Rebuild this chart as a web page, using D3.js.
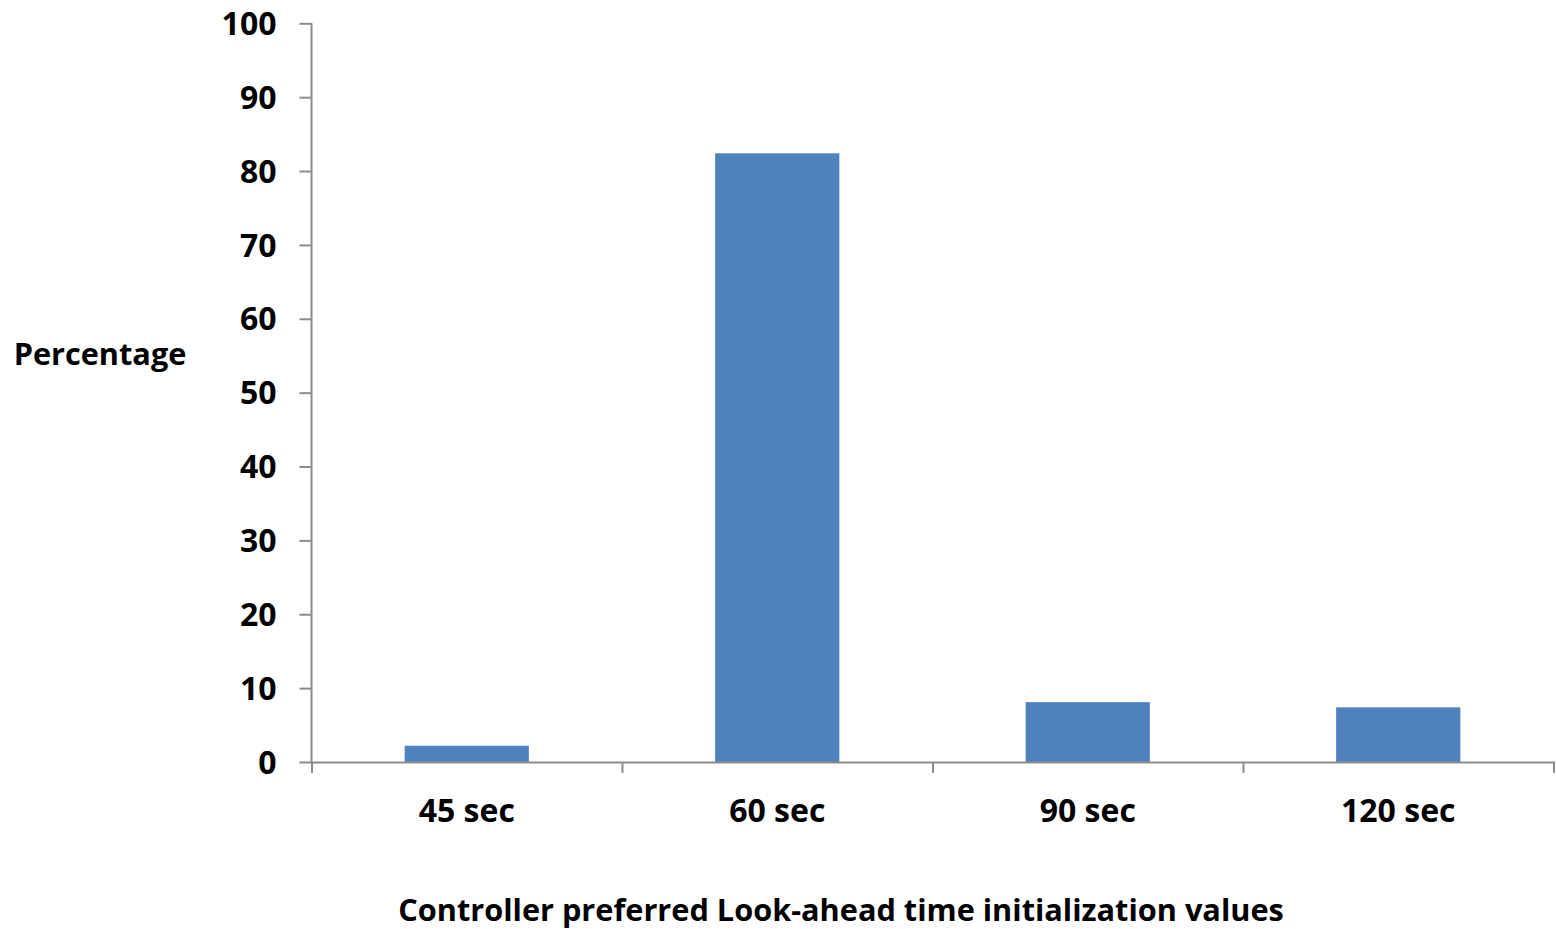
<!DOCTYPE html>
<html><head><meta charset="utf-8">
<script src="https://cdn.jsdelivr.net/npm/d3@7"></script>
<style>body{margin:0;background:#fff}svg text{font-family:"Open Sans",sans-serif;font-weight:bold;fill:#000}</style>
</head><body>
<svg id="c" width="1556" height="929"></svg>
<script>
const categories = ["45 sec","60 sec","90 sec","120 sec"];
const values = [2.2, 82.4, 8.1, 7.4];
const yTicks = [0,10,20,30,40,50,60,70,80,90,100];
const yTitle = "Percentage";
const xTitle = "Controller preferred Look-ahead time initialization values";

(function(){
const svg = d3.select("#c");
const mLeft = 311.5, mRight = 1553.5, mTop = 23.3, mBottom = 762;
const x = d3.scaleBand().domain(categories).range([mLeft, mRight]).paddingInner(0.6).paddingOuter(0.3);
const y = d3.scaleLinear().domain([0,100]).range([mBottom, mTop]);

svg.selectAll("rect.bar").data(values).enter().append("rect")
  .attr("class","bar")
  .attr("x",(d,i)=>x(categories[i]))
  .attr("width",x.bandwidth())
  .attr("y",d=>y(d))
  .attr("height",d=>mBottom-y(d))
  .attr("fill","#4f81bd");

const ya = svg.append("g").attr("transform",`translate(${mLeft},0)`)
  .call(d3.axisLeft(y).tickValues(yTicks).tickSize(12).tickPadding(23));
const xa = svg.append("g").attr("transform",`translate(0,${mBottom})`)
  .call(d3.axisBottom(d3.scalePoint().domain(d3.range(categories.length+1)).range([mLeft,mRight])).tickSize(11).tickFormat(""));
[ya,xa].forEach(g=>{g.selectAll("path,line").attr("stroke","#8c8c8c").attr("stroke-width",2);});
ya.select(".domain").attr("d",`M0,${mTop}V${mBottom}`);
ya.selectAll("text").attr("font-size",32).attr("dy","0.35em");

svg.append("g").selectAll("text").data(categories).enter().append("text")
  .attr("x",d=>x(d)+x.bandwidth()/2).attr("y",822)
  .attr("text-anchor","middle").attr("font-size",32).text(d=>d);

svg.append("text").attr("x",100).attr("y",365).attr("text-anchor","middle").attr("font-size",30.7).text(yTitle);
svg.append("text").attr("x",841).attr("y",921).attr("text-anchor","middle").attr("font-size",30.7).text(xTitle);
})();
</script>
</body></html>
